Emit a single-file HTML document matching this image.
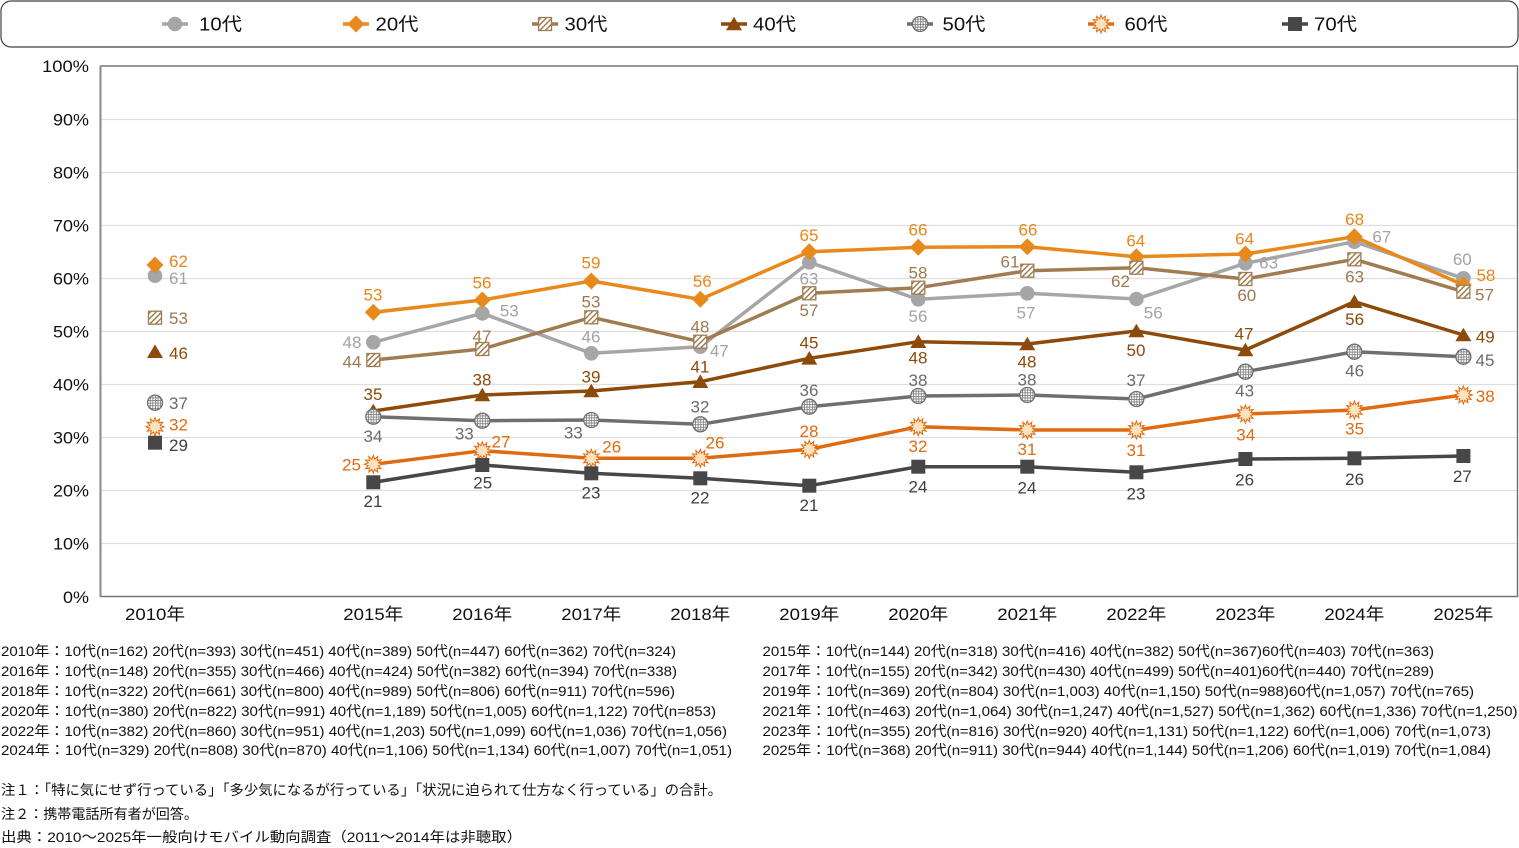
<!DOCTYPE html>
<html><head><meta charset="utf-8"><style>
html,body{margin:0;padding:0;background:#fff;}
svg{display:block;}
text{font-family:"Liberation Sans","Noto Sans CJK JP",sans-serif;}
</style></head><body>
<svg width="1519" height="848" viewBox="0 0 1519 848" xmlns="http://www.w3.org/2000/svg">
<defs>
<pattern id="hatch" width="4" height="4" patternUnits="userSpaceOnUse" patternTransform="rotate(45)"><rect width="4" height="4" fill="#fff"/><rect width="1.5" height="4" fill="#a07c52"/></pattern>
<pattern id="grid" width="2.6" height="2.6" patternUnits="userSpaceOnUse"><rect width="2.6" height="2.6" fill="#fff"/><rect width="0.8" height="2.6" fill="#7a7a7a"/><rect width="2.6" height="0.8" fill="#7a7a7a"/></pattern>
<g id="m10"><circle r="7.3" fill="#a6a6a6"/></g>
<g id="m20"><path d="M0,-8.5 L8.5,0 L0,8.5 L-8.5,0Z" fill="#e8891c"/></g>
<g id="m30"><rect x="-6.5" y="-6.5" width="13" height="13" fill="url(#hatch)" stroke="#a07c52" stroke-width="1.3"/></g>
<g id="m40"><path d="M0,-7.3 L8,6.3 L-8,6.3Z" fill="#8c4a0b"/></g>
<g id="m50"><circle r="7.5" fill="url(#grid)" stroke="#6f6f6f" stroke-width="1.3"/></g>
<g id="m60"><path d="M0,-9 L1.4,-5.2 L4.5,-7.79 L3.8,-3.8 L7.79,-4.5 L5.2,-1.4 L9,0 L5.2,1.4 L7.79,4.5 L3.8,3.8 L4.5,7.79 L1.4,5.2 L0,9 L-1.4,5.2 L-4.5,7.79 L-3.8,3.8 L-7.79,4.5 L-5.2,1.4 L-9,0 L-5.2,-1.4 L-7.79,-4.5 L-3.8,-3.8 L-4.5,-7.79 L-1.4,-5.2Z" fill="#fde2c2" stroke="#e06c10" stroke-width="1"/></g>
<g id="m70"><rect x="-7" y="-7" width="14" height="14" fill="#474747"/></g>
</defs>

<!-- Legend -->
<rect x="1" y="1" width="1517" height="46" rx="10" ry="10" fill="#fff" stroke="#404040" stroke-width="1.2"/>
<g font-size="18" fill="#111">
<line x1="162" y1="24" x2="188" y2="24" stroke="#a6a6a6" stroke-width="3.5"/><use href="#m10" x="175" y="24"/>
<text x="199" y="30.5" textLength="43" lengthAdjust="spacingAndGlyphs">10代</text>
<line x1="343" y1="24" x2="369" y2="24" stroke="#e8891c" stroke-width="3.5"/><use href="#m20" x="356" y="24"/>
<text x="375.5" y="30.5" textLength="43" lengthAdjust="spacingAndGlyphs">20代</text>
<line x1="532" y1="24" x2="558" y2="24" stroke="#a07c52" stroke-width="3.5"/><use href="#m30" x="545" y="24"/>
<text x="564.5" y="30.5" textLength="43" lengthAdjust="spacingAndGlyphs">30代</text>
<line x1="721" y1="24" x2="747" y2="24" stroke="#8c4a0b" stroke-width="3.5"/><use href="#m40" x="734" y="24"/>
<text x="753" y="30.5" textLength="43" lengthAdjust="spacingAndGlyphs">40代</text>
<line x1="907" y1="24" x2="933" y2="24" stroke="#6f6f6f" stroke-width="3.5"/><use href="#m50" x="920" y="24"/>
<text x="942.5" y="30.5" textLength="43" lengthAdjust="spacingAndGlyphs">50代</text>
<line x1="1088" y1="24" x2="1114" y2="24" stroke="#e06a10" stroke-width="3.5"/><use href="#m60" x="1101" y="24"/>
<text x="1124.5" y="30.5" textLength="43" lengthAdjust="spacingAndGlyphs">60代</text>
<line x1="1282" y1="24" x2="1308" y2="24" stroke="#474747" stroke-width="3.5"/><use href="#m70" x="1295" y="24"/>
<text x="1314" y="30.5" textLength="43" lengthAdjust="spacingAndGlyphs">70代</text>
</g>

<!-- Gridlines -->
<g stroke="#dedede" stroke-width="1.2">
<line x1="101" y1="119.5" x2="1517" y2="119.5"/>
<line x1="101" y1="172.5" x2="1517" y2="172.5"/>
<line x1="101" y1="225.5" x2="1517" y2="225.5"/>
<line x1="101" y1="278.5" x2="1517" y2="278.5"/>
<line x1="101" y1="331.5" x2="1517" y2="331.5"/>
<line x1="101" y1="384.5" x2="1517" y2="384.5"/>
<line x1="101" y1="437.5" x2="1517" y2="437.5"/>
<line x1="101" y1="490.5" x2="1517" y2="490.5"/>
<line x1="101" y1="543.5" x2="1517" y2="543.5"/>
</g>
<rect x="100.5" y="66" width="1417" height="530.5" fill="none" stroke="#6e6e6e" stroke-width="1.4"/>
<line x1="100.5" y1="66" x2="100.5" y2="597" stroke="#8a8a8a" stroke-width="2"/>

<!-- Y tick labels -->
<g font-size="17" fill="#111" text-anchor="end">
<text x="89" y="72" textLength="47" lengthAdjust="spacingAndGlyphs">100%</text>
<text x="89" y="125.5" textLength="36" lengthAdjust="spacingAndGlyphs">90%</text>
<text x="89" y="178.5" textLength="36" lengthAdjust="spacingAndGlyphs">80%</text>
<text x="89" y="231.5" textLength="36" lengthAdjust="spacingAndGlyphs">70%</text>
<text x="89" y="284.5" textLength="36" lengthAdjust="spacingAndGlyphs">60%</text>
<text x="89" y="337.5" textLength="36" lengthAdjust="spacingAndGlyphs">50%</text>
<text x="89" y="390.5" textLength="36" lengthAdjust="spacingAndGlyphs">40%</text>
<text x="89" y="443.5" textLength="36" lengthAdjust="spacingAndGlyphs">30%</text>
<text x="89" y="496.5" textLength="36" lengthAdjust="spacingAndGlyphs">20%</text>
<text x="89" y="549.5" textLength="36" lengthAdjust="spacingAndGlyphs">10%</text>
<text x="89" y="603" textLength="26" lengthAdjust="spacingAndGlyphs">0%</text>
</g>

<!-- X labels -->
<g font-size="17" fill="#111" text-anchor="middle">
<text x="155" y="620" textLength="60" lengthAdjust="spacingAndGlyphs">2010年</text>
<text x="373.3" y="620" textLength="60" lengthAdjust="spacingAndGlyphs">2015年</text>
<text x="482.3" y="620" textLength="60" lengthAdjust="spacingAndGlyphs">2016年</text>
<text x="591.3" y="620" textLength="60" lengthAdjust="spacingAndGlyphs">2017年</text>
<text x="700.3" y="620" textLength="60" lengthAdjust="spacingAndGlyphs">2018年</text>
<text x="809.3" y="620" textLength="60" lengthAdjust="spacingAndGlyphs">2019年</text>
<text x="918.3" y="620" textLength="60" lengthAdjust="spacingAndGlyphs">2020年</text>
<text x="1027.3" y="620" textLength="60" lengthAdjust="spacingAndGlyphs">2021年</text>
<text x="1136.4" y="620" textLength="60" lengthAdjust="spacingAndGlyphs">2022年</text>
<text x="1245.4" y="620" textLength="60" lengthAdjust="spacingAndGlyphs">2023年</text>
<text x="1354.4" y="620" textLength="60" lengthAdjust="spacingAndGlyphs">2024年</text>
<text x="1463.4" y="620" textLength="60" lengthAdjust="spacingAndGlyphs">2025年</text>
</g>

<!-- Series -->
<polyline fill="none" stroke-width="3.5" stroke-linejoin="round" stroke="#a6a6a6" points="373.3,342.3 482.3,313.3 591.3,353.3 700.3,346.7 809.3,262.3 918.3,299.3 1027.3,293.3 1136.4,299 1245.4,263.3 1354.4,241.7 1463.4,278.3"/>
<use href="#m10" x="155" y="275.7"/>
<use href="#m10" x="373.3" y="342.3"/><use href="#m10" x="482.3" y="313.3"/><use href="#m10" x="591.3" y="353.3"/><use href="#m10" x="700.3" y="346.7"/><use href="#m10" x="809.3" y="262.3"/><use href="#m10" x="918.3" y="299.3"/><use href="#m10" x="1027.3" y="293.3"/><use href="#m10" x="1136.4" y="299"/><use href="#m10" x="1245.4" y="263.3"/><use href="#m10" x="1354.4" y="241.7"/><use href="#m10" x="1463.4" y="278.3"/>

<polyline fill="none" stroke-width="3.5" stroke-linejoin="round" stroke="#e8891c" points="373.3,312.3 482.3,300 591.3,281 700.3,299.3 809.3,251.7 918.3,247.3 1027.3,246.7 1136.4,256.7 1245.4,254 1354.4,236.7 1463.4,285"/>
<use href="#m20" x="155" y="265"/>
<use href="#m20" x="373.3" y="312.3"/><use href="#m20" x="482.3" y="300"/><use href="#m20" x="591.3" y="281"/><use href="#m20" x="700.3" y="299.3"/><use href="#m20" x="809.3" y="251.7"/><use href="#m20" x="918.3" y="247.3"/><use href="#m20" x="1027.3" y="246.7"/><use href="#m20" x="1136.4" y="256.7"/><use href="#m20" x="1245.4" y="254"/><use href="#m20" x="1354.4" y="236.7"/><use href="#m20" x="1463.4" y="285"/>

<polyline fill="none" stroke-width="3.5" stroke-linejoin="round" stroke="#a07c52" points="373.3,360 482.3,349 591.3,317.3 700.3,341.7 809.3,293.3 918.3,287.7 1027.3,270.7 1136.4,267.7 1245.4,279 1354.4,259.3 1463.4,291.7"/>
<use href="#m30" x="155" y="317.7"/>
<use href="#m30" x="373.3" y="360"/><use href="#m30" x="482.3" y="349"/><use href="#m30" x="591.3" y="317.3"/><use href="#m30" x="700.3" y="341.7"/><use href="#m30" x="809.3" y="293.3"/><use href="#m30" x="918.3" y="287.7"/><use href="#m30" x="1027.3" y="270.7"/><use href="#m30" x="1136.4" y="267.7"/><use href="#m30" x="1245.4" y="279"/><use href="#m30" x="1354.4" y="259.3"/><use href="#m30" x="1463.4" y="291.7"/>

<polyline fill="none" stroke-width="3.5" stroke-linejoin="round" stroke="#8c4a0b" points="373.3,411 482.3,395 591.3,391 700.3,381.7 809.3,358.3 918.3,341.7 1027.3,344 1136.4,331 1245.4,350 1354.4,301.7 1463.4,335"/>
<use href="#m40" x="155" y="351.7"/>
<use href="#m40" x="373.3" y="411"/><use href="#m40" x="482.3" y="395"/><use href="#m40" x="591.3" y="391"/><use href="#m40" x="700.3" y="381.7"/><use href="#m40" x="809.3" y="358.3"/><use href="#m40" x="918.3" y="341.7"/><use href="#m40" x="1027.3" y="344"/><use href="#m40" x="1136.4" y="331"/><use href="#m40" x="1245.4" y="350"/><use href="#m40" x="1354.4" y="301.7"/><use href="#m40" x="1463.4" y="335"/>

<polyline fill="none" stroke-width="3.5" stroke-linejoin="round" stroke="#6f6f6f" points="373.3,416.7 482.3,420.7 591.3,420 700.3,424.3 809.3,406.7 918.3,396 1027.3,395 1136.4,399 1245.4,371.7 1354.4,351.7 1463.4,356.7"/>
<use href="#m50" x="155" y="402.7"/>
<use href="#m50" x="373.3" y="416.7"/><use href="#m50" x="482.3" y="420.7"/><use href="#m50" x="591.3" y="420"/><use href="#m50" x="700.3" y="424.3"/><use href="#m50" x="809.3" y="406.7"/><use href="#m50" x="918.3" y="396"/><use href="#m50" x="1027.3" y="395"/><use href="#m50" x="1136.4" y="399"/><use href="#m50" x="1245.4" y="371.7"/><use href="#m50" x="1354.4" y="351.7"/><use href="#m50" x="1463.4" y="356.7"/>

<polyline fill="none" stroke-width="3.5" stroke-linejoin="round" stroke="#e06a10" points="373.3,464.3 482.3,450.7 591.3,458.3 700.3,458.3 809.3,449.3 918.3,426.7 1027.3,430 1136.4,430 1245.4,414 1354.4,410 1463.4,395"/>
<use href="#m60" x="155" y="426.7"/>
<use href="#m60" x="373.3" y="464.3"/><use href="#m60" x="482.3" y="450.7"/><use href="#m60" x="591.3" y="458.3"/><use href="#m60" x="700.3" y="458.3"/><use href="#m60" x="809.3" y="449.3"/><use href="#m60" x="918.3" y="426.7"/><use href="#m60" x="1027.3" y="430"/><use href="#m60" x="1136.4" y="430"/><use href="#m60" x="1245.4" y="414"/><use href="#m60" x="1354.4" y="410"/><use href="#m60" x="1463.4" y="395"/>

<polyline fill="none" stroke-width="3.5" stroke-linejoin="round" stroke="#474747" points="373.3,482.3 482.3,465 591.3,473.3 700.3,478.3 809.3,485.7 918.3,466.7 1027.3,466.7 1136.4,472.3 1245.4,459 1354.4,458.3 1463.4,456"/>
<use href="#m70" x="155" y="442.7"/>
<use href="#m70" x="373.3" y="482.3"/><use href="#m70" x="482.3" y="465"/><use href="#m70" x="591.3" y="473.3"/><use href="#m70" x="700.3" y="478.3"/><use href="#m70" x="809.3" y="485.7"/><use href="#m70" x="918.3" y="466.7"/><use href="#m70" x="1027.3" y="466.7"/><use href="#m70" x="1136.4" y="472.3"/><use href="#m70" x="1245.4" y="459"/><use href="#m70" x="1354.4" y="458.3"/><use href="#m70" x="1463.4" y="456"/>

<!-- Data labels -->
<g font-size="17" text-anchor="middle">
<g text-anchor="start">
<text x="169" y="267" fill="#e8861a">62</text>
<text x="169" y="284" fill="#a3a3a3">61</text>
<text x="169" y="324" fill="#a07850">53</text>
<text x="169" y="359" fill="#8b4a0b">46</text>
<text x="169" y="409" fill="#6b6b6b">37</text>
<text x="169" y="430.5" fill="#e06a10">32</text>
<text x="169" y="451" fill="#404040">29</text>
</g>
<g fill="#a3a3a3">
<text x="352" y="348">48</text>
<text x="509.3" y="316.7">53</text>
<text x="591" y="342.7">46</text>
<text x="719.3" y="356.7">47</text>
<text x="809" y="284.3">63</text>
<text x="918" y="322">56</text>
<text x="1026" y="318.3">57</text>
<text x="1153.2" y="318.7">56</text>
<text x="1268.6" y="268.7">63</text>
<text x="1381.8" y="242.7">67</text>
<text x="1462.3" y="265">60</text>
</g>
<g fill="#e8861a">
<text x="373" y="300.3">53</text>
<text x="482" y="288.3">56</text>
<text x="591" y="268.7">59</text>
<text x="702.3" y="287">56</text>
<text x="809" y="241">65</text>
<text x="918" y="235.3">66</text>
<text x="1028" y="235.3">66</text>
<text x="1135.8" y="246.7">64</text>
<text x="1244.6" y="244.3">64</text>
<text x="1354.6" y="225">68</text>
<text x="1485.9" y="281">58</text>
</g>
<g fill="#a07850">
<text x="352" y="367.7">44</text>
<text x="482" y="342">47</text>
<text x="591" y="307.7">53</text>
<text x="700" y="332.7">48</text>
<text x="809" y="316">57</text>
<text x="918" y="278.3">58</text>
<text x="1010" y="267.7">61</text>
<text x="1120.5" y="287">62</text>
<text x="1246.8" y="301">60</text>
<text x="1354.6" y="282.7">63</text>
<text x="1484.5" y="300.3">57</text>
</g>
<g fill="#8b4a0b">
<text x="373" y="400">35</text>
<text x="482" y="385.3">38</text>
<text x="591" y="382.7">39</text>
<text x="700" y="372.7">41</text>
<text x="809" y="348.7">45</text>
<text x="918" y="363.7">48</text>
<text x="1027" y="367.7">48</text>
<text x="1136" y="356">50</text>
<text x="1244" y="339.3">47</text>
<text x="1354.6" y="325">56</text>
<text x="1485.2" y="342.7">49</text>
</g>
<g fill="#6b6b6b">
<text x="373" y="442">34</text>
<text x="464.3" y="439.3">33</text>
<text x="573.3" y="438.7">33</text>
<text x="700" y="412.7">32</text>
<text x="809" y="396">36</text>
<text x="918" y="386">38</text>
<text x="1027" y="385.3">38</text>
<text x="1136" y="386">37</text>
<text x="1244.6" y="396.7">43</text>
<text x="1354.6" y="376.7">46</text>
<text x="1485" y="366">45</text>
</g>
<g fill="#e06a10">
<text x="351.5" y="470.3">25</text>
<text x="501" y="447.7">27</text>
<text x="611.7" y="452.7">26</text>
<text x="715" y="448.7">26</text>
<text x="809" y="437">28</text>
<text x="918" y="452">32</text>
<text x="1027" y="455">31</text>
<text x="1136" y="456">31</text>
<text x="1245.7" y="440.3">34</text>
<text x="1354.6" y="434.3">35</text>
<text x="1485.2" y="402">38</text>
</g>
<g fill="#404040">
<text x="373" y="507">21</text>
<text x="482.7" y="488.3">25</text>
<text x="591" y="498.7">23</text>
<text x="700" y="503.7">22</text>
<text x="809" y="511">21</text>
<text x="918" y="492.7">24</text>
<text x="1027" y="493.3">24</text>
<text x="1136" y="499.3">23</text>
<text x="1244.6" y="485.3">26</text>
<text x="1354.6" y="485">26</text>
<text x="1462.3" y="482">27</text>
</g>
</g>

<!-- Footnotes -->
<g font-size="14" fill="#111">
<text x="1" y="656" textLength="675" lengthAdjust="spacingAndGlyphs">2010年：10代(n=162) 20代(n=393) 30代(n=451) 40代(n=389) 50代(n=447) 60代(n=362) 70代(n=324)</text>
<text x="1" y="676" textLength="676" lengthAdjust="spacingAndGlyphs">2016年：10代(n=148) 20代(n=355) 30代(n=466) 40代(n=424) 50代(n=382) 60代(n=394) 70代(n=338)</text>
<text x="1" y="696" textLength="674" lengthAdjust="spacingAndGlyphs">2018年：10代(n=322) 20代(n=661) 30代(n=800) 40代(n=989) 50代(n=806) 60代(n=911) 70代(n=596)</text>
<text x="1" y="716" textLength="715" lengthAdjust="spacingAndGlyphs">2020年：10代(n=380) 20代(n=822) 30代(n=991) 40代(n=1,189) 50代(n=1,005) 60代(n=1,122) 70代(n=853)</text>
<text x="1" y="736" textLength="726" lengthAdjust="spacingAndGlyphs">2022年：10代(n=382) 20代(n=860) 30代(n=951) 40代(n=1,203) 50代(n=1,099) 60代(n=1,036) 70代(n=1,056)</text>
<text x="1" y="755" textLength="731" lengthAdjust="spacingAndGlyphs">2024年：10代(n=329) 20代(n=808) 30代(n=870) 40代(n=1,106) 50代(n=1,134) 60代(n=1,007) 70代(n=1,051)</text>

<text x="762.5" y="656" textLength="671.5" lengthAdjust="spacingAndGlyphs">2015年：10代(n=144) 20代(n=318) 30代(n=416) 40代(n=382) 50代(n=367)60代(n=403) 70代(n=363)</text>
<text x="762.5" y="676" textLength="671.5" lengthAdjust="spacingAndGlyphs">2017年：10代(n=155) 20代(n=342) 30代(n=430) 40代(n=499) 50代(n=401)60代(n=440) 70代(n=289)</text>
<text x="762.5" y="696" textLength="711.5" lengthAdjust="spacingAndGlyphs">2019年：10代(n=369) 20代(n=804) 30代(n=1,003) 40代(n=1,150) 50代(n=988)60代(n=1,057) 70代(n=765)</text>
<text x="762.5" y="716" textLength="755" lengthAdjust="spacingAndGlyphs">2021年：10代(n=463) 20代(n=1,064) 30代(n=1,247) 40代(n=1,527) 50代(n=1,362) 60代(n=1,336) 70代(n=1,250)</text>
<text x="762.5" y="736" textLength="728.5" lengthAdjust="spacingAndGlyphs">2023年：10代(n=355) 20代(n=816) 30代(n=920) 40代(n=1,131) 50代(n=1,122) 60代(n=1,006) 70代(n=1,073)</text>
<text x="762.5" y="755" textLength="728.5" lengthAdjust="spacingAndGlyphs">2025年：10代(n=368) 20代(n=911) 30代(n=944) 40代(n=1,144) 50代(n=1,206) 60代(n=1,019) 70代(n=1,084)</text>

<text x="1" y="795" textLength="721" lengthAdjust="spacingAndGlyphs">注１：「特に気にせず行っている」「多少気になるが行っている」「状況に迫られて仕方なく行っている」の合計。</text>
<text x="1" y="819" textLength="197" lengthAdjust="spacingAndGlyphs">注２：携帯電話所有者が回答。</text>
<text x="1" y="842" textLength="521" lengthAdjust="spacingAndGlyphs">出典：2010～2025年一般向けモバイル動向調査（2011～2014年は非聴取）</text>
</g>
</svg>
</body></html>
